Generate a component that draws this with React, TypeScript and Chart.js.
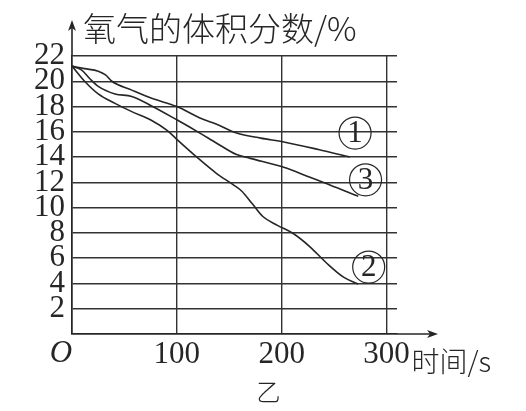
import { useEffect, useRef } from "react";
import { Chart, registerables } from "chart.js";

Chart.register(...registerables);

// ---- text ----
const yAxisTitle = "氧气的体积分数/%";
const xAxisTitle = "时间/s";
const figureLabel = "乙";
const originLabel = "O";

// ---- ticks ----
const xTicks = [0, 100, 200, 300];
const yTicks = [0, 2, 4, 6, 8, 10, 12, 14, 16, 18, 20, 22];

// ---- series ① ----
const s1Time = [0, 12, 25, 32, 38, 57, 76, 100, 122, 138, 157, 180, 202, 235, 265];
const s1O2 = [21.2, 21.0, 20.8, 20.5, 20.0, 19.3, 18.65, 18.0, 17.1, 16.6, 15.9, 15.5, 15.2, 14.6, 14.0];

// ---- series ② ----
const s2Time = [0, 12, 25, 41, 57, 76, 91, 100, 119, 138, 154, 162, 172, 182, 196, 211, 227, 243, 259, 273];
const s2O2 = [21.2, 20.0, 19.0, 18.25, 17.6, 16.9, 16.1, 15.4, 14.0, 12.7, 11.8, 11.3, 10.3, 9.3, 8.6, 7.95, 6.9, 5.6, 4.5, 3.95];

// ---- series ③ ----
const s3Time = [0, 9, 17, 25, 41, 57, 76, 100, 122, 138, 157, 170, 202, 227, 246, 273];
const s3O2 = [21.2, 20.9, 20.2, 19.6, 19.0, 18.8, 18.05, 16.95, 15.9, 15.1, 14.2, 13.9, 13.2, 12.4, 11.8, 10.9];

// ---- curve labels (circled numbers) ----
const curveNames = ["1", "2", "3"];
const labelTime = [270, 283, 280];
const labelO2 = [15.9, 5.3, 12.2];

const INK = "#262626";

const annotations = {
  id: "annotations",
  afterDraw(chart: any) {
    const { ctx, chartArea, scales } = chart;
    const { left, right, top, bottom } = chartArea;
    const x = scales.x;
    const y = scales.y;
    ctx.save();
    ctx.strokeStyle = INK;
    ctx.fillStyle = INK;
    ctx.lineWidth = 1.6;

    // y axis extension + arrow
    const yTip = top - 36;
    ctx.beginPath();
    ctx.moveTo(left, top);
    ctx.lineTo(left, yTip + 6);
    ctx.stroke();
    ctx.beginPath();
    ctx.moveTo(left, yTip);
    ctx.lineTo(left - 4, yTip + 11);
    ctx.lineTo(left, yTip + 8);
    ctx.lineTo(left + 4, yTip + 11);
    ctx.closePath();
    ctx.fill();

    // x axis extension + arrow
    const xTip = right + 41;
    ctx.beginPath();
    ctx.moveTo(right, bottom);
    ctx.lineTo(xTip - 6, bottom);
    ctx.stroke();
    ctx.beginPath();
    ctx.moveTo(xTip, bottom);
    ctx.lineTo(xTip - 11, bottom - 4);
    ctx.lineTo(xTip - 8, bottom);
    ctx.lineTo(xTip - 11, bottom + 4);
    ctx.closePath();
    ctx.fill();

    // y title
    ctx.textAlign = "left";
    ctx.textBaseline = "middle";
    ctx.font = '300 33px "Noto Sans CJK SC", sans-serif';
    ctx.fillText(yAxisTitle, left + 11, top - 28);

    // x title, right after the 300 label
    const p300 = x.getPixelForValue(300);
    ctx.font = '300 28px "Noto Sans CJK SC", sans-serif';
    ctx.fillText(xAxisTitle, p300 + 25, bottom + 27);

    // origin
    ctx.textAlign = "center";
    ctx.font = 'italic 31px "Liberation Serif", serif';
    ctx.fillText(originLabel, left - 11, bottom + 20);

    // figure label
    ctx.font = '300 24px "Noto Sans CJK SC", sans-serif';
    ctx.fillText(figureLabel, (left + right) / 2 + 34, bottom + 58);

    // circled curve labels
    ctx.lineWidth = 1.2;
    for (let i = 0; i < curveNames.length; i++) {
      const px = x.getPixelForValue(labelTime[i]);
      const py = y.getPixelForValue(labelO2[i]);
      ctx.beginPath();
      ctx.arc(px, py, 16, 0, Math.PI * 2);
      ctx.stroke();
      ctx.font = '31px "Liberation Serif", serif';
      ctx.textAlign = "center";
      ctx.textBaseline = "middle";
      ctx.fillText(curveNames[i], px, py + 1);
    }
    ctx.restore();
  },
};

export default function App() {
  const ref = useRef<HTMLCanvasElement | null>(null);

  useEffect(() => {
    if (!ref.current) return;
    const mk = (t: number[], v: number[]) => t.map((tt, i) => ({ x: tt, y: v[i] }));
    const lineStyle = {
      borderColor: INK,
      borderWidth: 1.6,
      pointRadius: 0,
      fill: false,
      cubicInterpolationMode: "monotone" as const,
    };
    const chart = new Chart(ref.current, {
      type: "line",
      data: {
        datasets: [
          { label: "①", data: mk(s1Time, s1O2), ...lineStyle },
          { label: "②", data: mk(s2Time, s2O2), ...lineStyle },
          { label: "③", data: mk(s3Time, s3O2), ...lineStyle },
        ],
      },
      options: {
        animation: false,
        responsive: false,
        layout: { padding: { left: 0, top: 56, right: 129, bottom: 0 } },
        plugins: { legend: { display: false }, tooltip: { enabled: false } },
        scales: {
          x: {
            type: "linear",
            min: 0,
            max: 310,
            afterBuildTicks: (s: any) => {
              s.ticks = xTicks.map((v) => ({ value: v }));
            },
            afterFit: (s: any) => {
              s.height = 77;
            },
            grid: { color: "#333", lineWidth: 1.4, drawTicks: false },
            border: { color: INK, width: 1.6 },
            ticks: {
              padding: 2,
              color: INK,
              autoSkip: false,
              maxRotation: 0,
              font: { family: '"Liberation Serif", serif', size: 31 },
              callback: (v: any) => (v === 0 ? "" : String(v)),
            },
          },
          y: {
            type: "linear",
            min: 0,
            max: 22,
            afterBuildTicks: (s: any) => {
              s.ticks = yTicks.map((v) => ({ value: v }));
            },
            afterFit: (s: any) => {
              s.width = 72;
            },
            grid: { color: "#333", lineWidth: 1.4, drawTicks: false },
            border: { color: INK, width: 1.6 },
            ticks: {
              padding: 7,
              color: INK,
              autoSkip: false,
              font: { family: '"Liberation Serif", serif', size: 31 },
              callback: (v: any) => (v === 0 ? "" : String(v)),
            },
          },
        },
      },
      plugins: [annotations],
    });
    return () => chart.destroy();
  }, []);

  return (
    <div style={{ position: "fixed", left: 0, top: 0, width: 526, height: 411, background: "#fff" }}>
      <canvas ref={ref} width={526} height={411} style={{ display: "block", width: 526, height: 411 }} />
    </div>
  );
}
